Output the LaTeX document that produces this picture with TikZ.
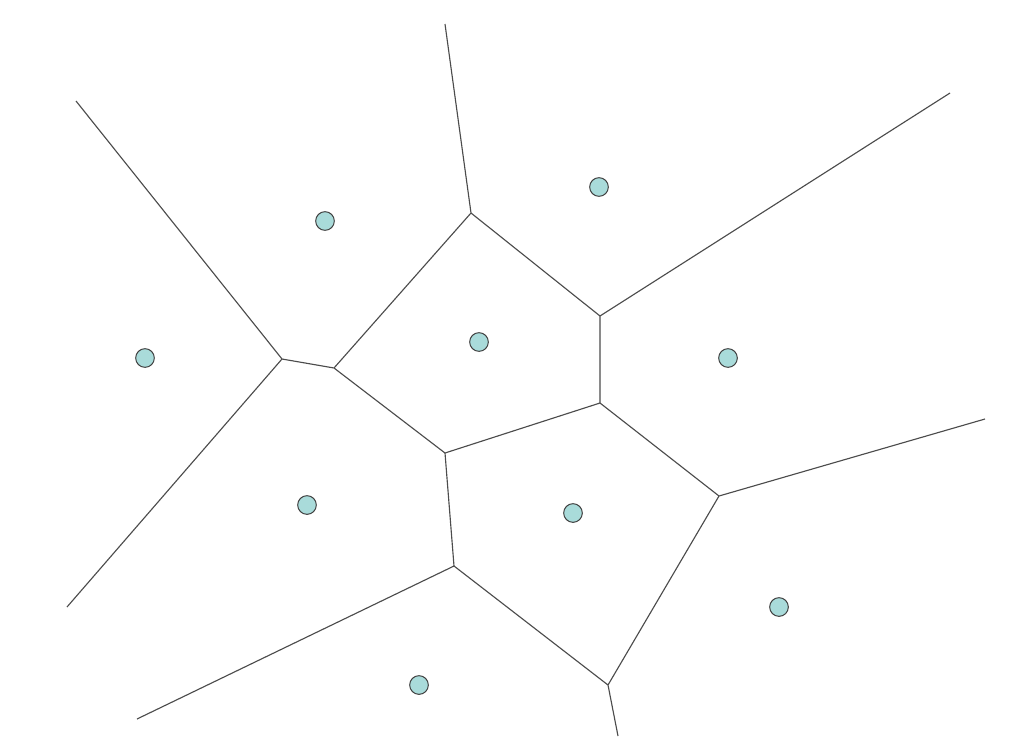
\documentclass[tikz,border=0pt]{standalone}
\usepackage{tikz}
\usetikzlibrary{positioning}

\definecolor{sitefill}{HTML}{A9DBDA}
\tikzset{
    site/.style={circle, draw=black!75, line width=0.75pt, fill=sitefill, minimum size=14pt, inner sep=0pt},
    edge/.style={draw=black!70, line width=0.85pt}
}

\begin{document}
\begin{tikzpicture}[x=0.75pt, y=-0.75pt]
    \useasboundingbox (0,0) rectangle (1024,736);
    \coordinate (A) at (471,213);
    \coordinate (B) at (600,316);
    \coordinate (C) at (600,403);
    \coordinate (D) at (719,496);
    \coordinate (E) at (608,685);
    \coordinate (F) at (454,566);
    \coordinate (G) at (445,453);
    \coordinate (H) at (334,368);
    \coordinate (I) at (282,359);
    \coordinate (At) at (445,24);
    \coordinate (Bt) at (950,93);
    \coordinate (Dt) at (985,419);
    \coordinate (Et) at (618,736);
    \coordinate (Ft) at (137,719);
    \coordinate (It) at (76,101);
    \coordinate (Ib) at (67,607);
    \draw[edge]
        (A) -- (At)
        (A) -- (B)
        (A) -- (H)
        (B) -- (Bt)
        (B) -- (C)
        (C) -- (G)
        (C) -- (D)
        (D) -- (Dt)
        (D) -- (E)
        (E) -- (Et)
        (E) -- (F)
        (F) -- (Ft)
        (F) -- (G)
        (G) -- (H)
        (H) -- (I)
        (I) -- (It)
        (I) -- (Ib);
    \node[site] (s1) at (325,221) {};
    \node[site] (s2) at (599,187) {};
    \node[site] (s3) at (145,358) {};
    \node[site] (s4) at (479,342) {};
    \node[site] (s5) at (728,358) {};
    \node[site] (s6) at (307,505) {};
    \node[site] (s7) at (573,513) {};
    \node[site] (s8) at (779,607) {};
    \node[site] (s9) at (419,685) {};
\end{tikzpicture}
\end{document}
